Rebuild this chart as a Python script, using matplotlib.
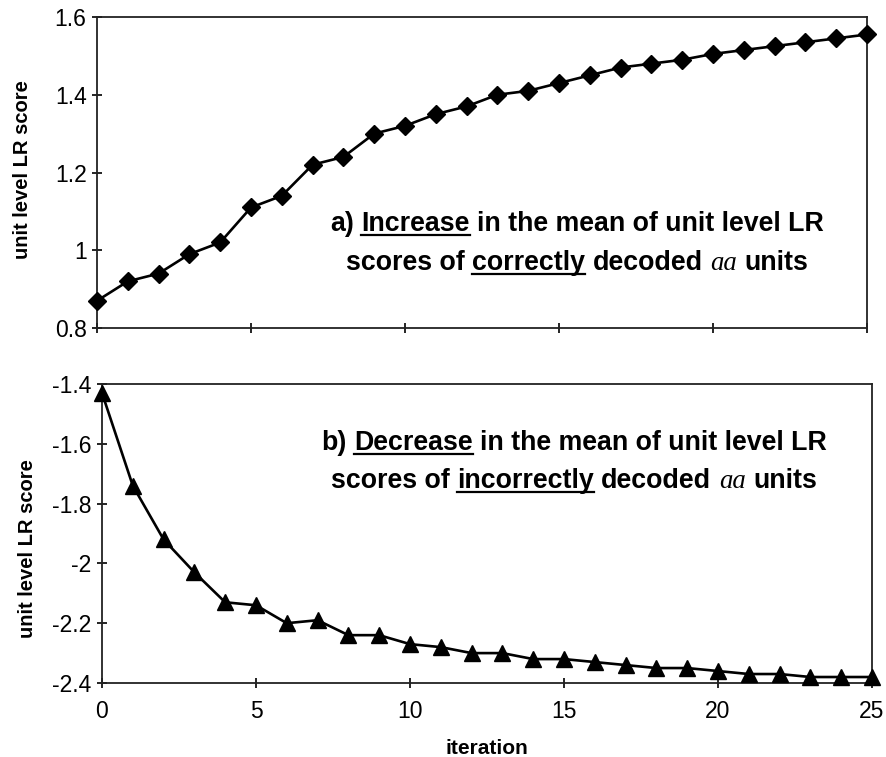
import matplotlib
matplotlib.use("Agg")
import matplotlib.pyplot as plt
from matplotlib.lines import Line2D
from matplotlib.font_manager import FontProperties
from matplotlib.ticker import FuncFormatter

# data
iterations = list(range(26))
correct_lr = [0.87, 0.92, 0.94, 0.99, 1.02, 1.11, 1.14, 1.22, 1.24, 1.30,
              1.32, 1.35, 1.37, 1.40, 1.41, 1.43, 1.45, 1.47, 1.48, 1.49,
              1.505, 1.515, 1.525, 1.535, 1.545, 1.555]
incorrect_lr = [-1.43, -1.74, -1.92, -2.03, -2.13, -2.14, -2.20, -2.19, -2.24, -2.24,
                -2.27, -2.28, -2.30, -2.30, -2.32, -2.32, -2.33, -2.34, -2.35, -2.35,
                -2.36, -2.37, -2.37, -2.38, -2.38, -2.38]
x_ticks = [0, 5, 10, 15, 20, 25]
top_yticks = [0.8, 1.0, 1.2, 1.4, 1.6]
bot_yticks = [-2.4, -2.2, -2.0, -1.8, -1.6, -1.4]

plt.rcParams['font.family'] = ['Liberation Sans', 'DejaVu Sans']
plt.rcParams['axes.unicode_minus'] = False

W, H = 887, 757
fig = plt.figure(figsize=(W / 100.0, H / 100.0), dpi=100)


def px_axes(left, top, right, bottom):
    # axes from pixel box
    return fig.add_axes([left / W, 1 - bottom / H, (right - left) / W, (bottom - top) / H])


def style_axes(ax):
    for s in ax.spines.values():
        s.set_linewidth(1.3)
        s.set_color('#222222')
    ax.set_xlim(0, 25)
    ax.set_xticks(x_ticks)
    ax.tick_params(axis='both', direction='inout', length=7, width=1.2, labelsize=16.5, pad=6)
    ax.tick_params(axis='y', pad=4)
    ax.yaxis.set_major_formatter(FuncFormatter(lambda v, p: '%g' % round(v, 2)))
    ax.set_ylabel('unit level LR score', fontsize=14.5, fontweight='bold')


ax1 = px_axes(97, 17, 867, 328)
ax1.plot(iterations, correct_lr, color='black', lw=1.9, marker='D', ms=9.5, clip_on=False, zorder=3)
style_axes(ax1)
ax1.set_ylim(0.8, 1.6)
ax1.set_yticks(top_yticks)
ax1.tick_params(axis='x', labelbottom=False)
ax1.yaxis.set_label_coords(-0.085, 0.51)

ax2 = px_axes(102, 384, 872, 683)
ax2.plot(iterations, incorrect_lr, color='black', lw=1.9, marker='^', ms=12, clip_on=False, zorder=3)
style_axes(ax2)
ax2.set_ylim(-2.4, -1.4)
ax2.set_yticks(bot_yticks)
ax2.tick_params(axis='x', pad=9)
ax2.set_xlabel('iteration', fontsize=15, fontweight='bold', labelpad=11)
ax2.yaxis.set_label_coords(-0.085, 0.45)

# annotation text with underlined words, laid out piece by piece
fig.canvas.draw()
renderer = fig.canvas.get_renderer()
bold = FontProperties(family='Liberation Sans', weight='bold', size=19.3)
ital = FontProperties(family='Liberation Serif', style='italic', size=19.3)


def text_w(s, prop):
    w, h, d = renderer.get_text_width_height_descent(s, prop, ismath=False)
    return w


space_w = text_w('n n', bold) - text_w('nn', bold)


def draw_line(cx, baseline, runs):
    widths = [text_w(t, bold if st == 'b' else ital) for t, st, u in runs]
    total = sum(widths) + space_w * (len(runs) - 1)
    x = cx - total / 2.0
    for (t, st, u), w in zip(runs, widths):
        prop = bold if st == 'b' else ital
        fig.text(x / W, 1 - baseline / H, t, fontproperties=prop, va='baseline', ha='left')
        if u:
            yy = 1 - (baseline + 4) / H
            fig.add_artist(Line2D([x / W, (x + w) / W], [yy, yy], color='black',
                                  lw=1.6, transform=fig.transFigure))
        x += w + space_w


draw_line(577, 231, [('a)', 'b', False), ('Increase', 'b', True),
                     ('in the mean of unit level LR', 'b', False)])
draw_line(577, 270, [('scores of', 'b', False), ('correctly', 'b', True),
                     ('decoded', 'b', False), ('aa', 'i', False), ('units', 'b', False)])
draw_line(574, 450, [('b)', 'b', False), ('Decrease', 'b', True),
                     ('in the mean of unit level LR', 'b', False)])
draw_line(574, 488, [('scores of', 'b', False), ('incorrectly', 'b', True),
                     ('decoded', 'b', False), ('aa', 'i', False), ('units', 'b', False)])

fig.savefig('out.png', dpi=100)
